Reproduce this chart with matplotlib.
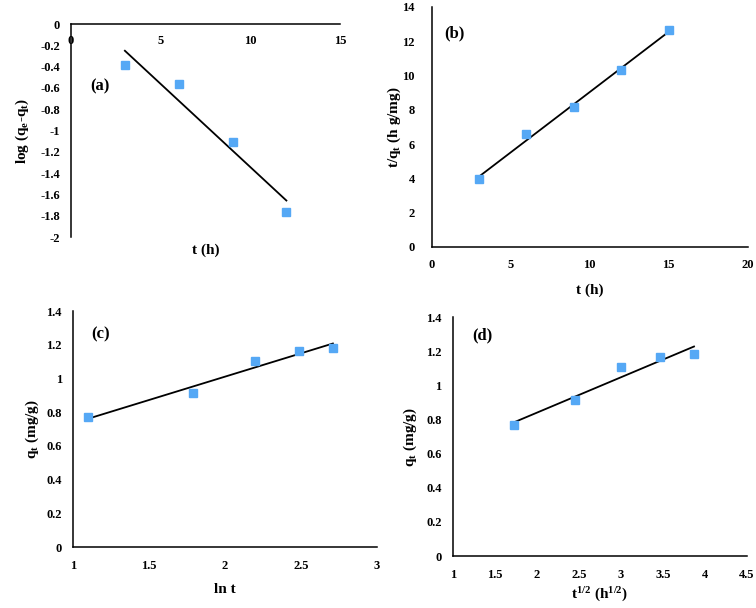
import numpy as np
import matplotlib
matplotlib.use("Agg")
import matplotlib.pyplot as plt

plt.rcParams['font.family'] = 'serif'
plt.rcParams['font.serif'] = ['Liberation Serif', 'DejaVu Serif']
plt.rcParams['font.weight'] = 'bold'
plt.rcParams['mathtext.fontset'] = 'custom'
plt.rcParams['mathtext.rm'] = 'Liberation Serif:bold'
plt.rcParams['mathtext.it'] = 'Liberation Serif:bold'
plt.rcParams['mathtext.bf'] = 'Liberation Serif:bold'

# kinetic data
t_a = [3, 6, 9, 12]
log_qe_qt = [-0.38, -0.565, -1.11, -1.76]

t_b = [3, 6, 9, 12, 15]
t_over_qt = [3.94, 6.6, 8.15, 10.3, 12.65]

ln_t = [1.10, 1.79, 2.20, 2.485, 2.71]
sqrt_t = [1.73, 2.45, 3.0, 3.46, 3.87]
qt = [0.77, 0.912, 1.105, 1.165, 1.182]

MARKER_COLOR = '#55a8f5'
TICK_FS = 9
LABEL_FS = 11

fig = plt.figure(figsize=(7.56, 6.08), dpi=100)


def make_panel(rect, x, y, xlim, xticks, ylim, yticks, xlabel, ylabel,
               tag, tag_pos, xlab_y, ylab_x, ypad=8):
    ax = fig.add_axes(rect)
    ax.plot(x, y, 's', color=MARKER_COLOR, markersize=5.5, zorder=3)
    # linear trendline
    k, b = np.polyfit(x, y, 1)
    xf = np.array([min(x), max(x)])
    ax.plot(xf, k * xf + b, '-', color='black', linewidth=1.3, zorder=2)
    ax.set_xlim(*xlim)
    ax.set_ylim(*ylim)
    ax.set_xticks(xticks)
    ax.set_yticks(yticks)
    ax.set_xticklabels([f'{v:g}' for v in xticks])
    ax.set_yticklabels([f'{v:g}' for v in yticks])
    ax.spines['right'].set_visible(False)
    ax.spines['top'].set_visible(False)
    for s in ('left', 'bottom'):
        ax.spines[s].set_linewidth(1.1)
    ax.tick_params(axis='both', length=0, labelsize=TICK_FS)
    ax.tick_params(axis='x', pad=9)
    ax.tick_params(axis='y', pad=ypad)
    ax.set_xlabel(xlabel, fontsize=LABEL_FS, fontweight='bold')
    ax.set_ylabel(ylabel, fontsize=LABEL_FS, fontweight='bold')
    ax.xaxis.set_label_coords(0.5, xlab_y)
    ax.yaxis.set_label_coords(ylab_x, 0.5)
    ax.text(tag_pos[0], tag_pos[1], tag, transform=ax.transAxes,
            fontsize=12, fontweight='bold', ha='center', va='center')
    return ax


# (a) pseudo-first-order
ax_a = make_panel([0.094, 0.610, 0.356, 0.3505], t_a, log_qe_qt,
                  (0, 15), [0, 5, 10, 15], (-2, 0),
                  [0, -0.2, -0.4, -0.6, -0.8, -1, -1.2, -1.4, -1.6, -1.8, -2],
                  't (h)', r'log (q$_\mathrm{e}$-q$_\mathrm{t}$)',
                  '(a)', (0.108, 0.709), -0.028, -0.149)
ax_a.spines['bottom'].set_position(('data', 0))
ax_a.tick_params(axis='x', pad=8)

# (b) pseudo-second-order
make_panel([0.571, 0.594, 0.418, 0.3945], t_b, t_over_qt,
           (0, 20), [0, 5, 10, 15, 20], (0, 14), [0, 2, 4, 6, 8, 10, 12, 14],
           't (h)', r't/q$_\mathrm{t}$ (h g/mg)',
           '(b)', (0.073, 0.89), -0.154, -0.092, ypad=12)

# (c) Elovich
make_panel([0.0966, 0.1003, 0.402, 0.388], ln_t, qt,
           (1, 3), [1, 1.5, 2, 2.5, 3], (0, 1.4),
           [0, 0.2, 0.4, 0.6, 0.8, 1, 1.2, 1.4],
           'ln t', r'q$_\mathrm{t}$ (mg/g)',
           '(c)', (0.089, 0.90), -0.153, -0.105)

# (d) intraparticle diffusion
make_panel([0.599, 0.0855, 0.389, 0.393], sqrt_t, qt,
           (1, 4.5), [1, 1.5, 2, 2.5, 3, 3.5, 4, 4.5], (0, 1.4),
           [0, 0.2, 0.4, 0.6, 0.8, 1, 1.2, 1.4],
           r't$^{1/2}$ (h$^{1/2}$)', r'q$_\mathrm{t}$ (mg/g)',
           '(d)', (0.099, 0.925), -0.126, -0.116)

fig.savefig('out.png', dpi=100)
